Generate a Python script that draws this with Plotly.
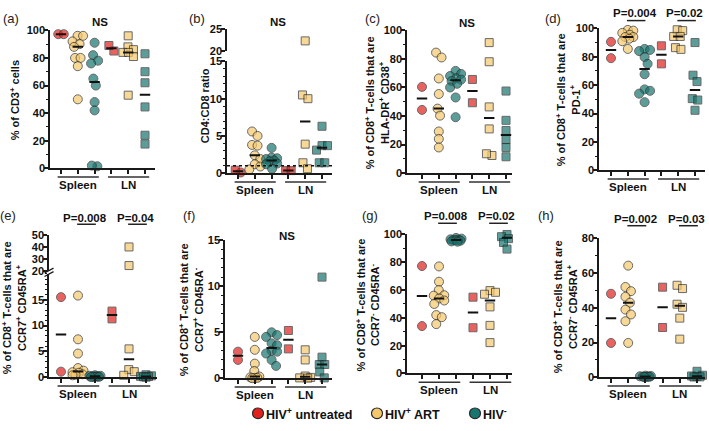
import numpy as np
import plotly.graph_objects as go

W, H = 709, 431
RED, YEL, TEAL = "#E2211C", "#F6C86B", "#17766F"
EDGE = "#2a2a2a"
AX = "#1a1a1a"
FONT = "Liberation Sans"

GROUP_NAMES = ["HIV<sup>+</sup> untreated", "HIV<sup>+</sup> ART", "HIV<sup>-</sup>"]
TISSUES = ["Spleen", "LN"]

# (a) % of CD3+ cells
cd3_spleen_untreated = [97.2, 97.2]
cd3_spleen_art = [96, 96, 92, 90, 88, 80, 80, 74, 50]
cd3_spleen_neg = [91, 82, 78, 76, 65, 60, 48, 42, 1.5, 2]
cd3_ln_untreated = [85, 89]
cd3_ln_art = [96, 88, 86, 84, 84, 81, 53]
cd3_ln_neg = [83, 70, 62, 44.5, 24, 17.6]

# (b) CD4:CD8 ratio
ratio_spleen_untreated = [0.1, 0.4]
ratio_spleen_art = [5.6, 5.0, 3.8, 3.7, 2.4, 1.9, 1.2, 0.9, 0.5]
ratio_spleen_neg = [3.4, 2.1, 2.0, 1.9, 1.7, 1.6, 1.3, 1.2, 0.6]
ratio_ln_untreated = [0.35, 0.35]
ratio_ln_art = [22.3, 10.5, 10.0, 3.9, 1.4, 0.6]
ratio_ln_neg = [6.3, 3.7, 3.7, 3.1, 1.4, 1.4]
ratio_reference = 1.0

# (c) HLA-DR+ CD38+
hla_spleen_untreated = [60.4, 44.3]
hla_spleen_art = [84.4, 81, 66.3, 55.4, 45.2, 40.3, 29.2, 24, 18]
hla_spleen_neg = [71.6, 69.5, 68, 66.5, 65.5, 64.5, 62.6, 60, 53, 39.2]
hla_ln_untreated = [65.6, 49.3]
hla_ln_art = [91.4, 78, 46.4, 31, 12.4, 13.6]
hla_ln_neg = [57.5, 37, 29.9, 23.5, 18, 11.5]

# (d) PD-1+
pd1_spleen_untreated = [90.5, 79]
pd1_spleen_art = [98.9, 98.4, 96.8, 95.5, 93.9, 93.9, 92.7, 90.9, 85.5]
pd1_spleen_neg = [85.5, 84.8, 84, 79.8, 75, 67.7, 57, 56, 54, 48]
pd1_ln_untreated = [87.7, 75]
pd1_ln_art = [99, 98.4, 94.3, 94.3, 86.4, 85.2]
pd1_ln_neg = [90, 67, 62.5, 50.5, 49.5, 42.3]

# (e) CCR7+ CD45RA+
naive_spleen_untreated = [15.5, 1.1]
naive_spleen_art = [15.8, 7.35, 4.6, 1.8, 1.3, 1.0, 0.9, 0.6, 0.5, 0.4]
naive_spleen_neg = [0.4, 0.3, 0.3, 0.2, 0.2, 0.15, 0.1, 0.1, 0.05]
naive_ln_untreated = [11.3, 12.8]
naive_ln_art = [40.1, 24.5, 5.5, 1.5, 1.1, 0.4]
naive_ln_neg = [0.5, 0.3, 0.2, 0.15, 0.1, 0.05]

# (f) CCR7+ CD45RA-
cm_spleen_untreated = [2.0, 2.9]
cm_spleen_art = [4.5, 3.1, 1.6, 0.8, 0.2, 0.1, 0.05, 0.05, 0.02]
cm_spleen_neg = [5.0, 4.7, 4.5, 3.8, 3.6, 3.0, 2.9, 2.7, 2.0, 1.35]
cm_ln_untreated = [5.2, 3.2]
cm_ln_art = [3.1, 2.0, 0.25, 0.1, 0.05, 0.02]
cm_ln_neg = [11.0, 2.3, 1.5, 1.5, 0.7, 0.05]

# (g) CCR7- CD45RA-
em_spleen_untreated = [77.3, 34.1]
em_spleen_art = [77, 66, 60, 56.3, 56, 54, 52.5, 50, 42, 40.5, 35.5]
em_spleen_neg = [97.5, 97, 96.5, 96.2, 96, 95.8, 95.5, 95, 94.8]
em_ln_untreated = [54.9, 32.9]
em_ln_art = [59.6, 58.4, 57, 47.9, 34.6, 22.2]
em_ln_neg = [100, 98.8, 98.4, 97, 94.2, 89.5]

# (h) CCR7- CD45RA+
emra_spleen_untreated = [48.1, 19.8]
emra_spleen_art = [64.3, 52, 49.6, 46.4, 43, 39, 36.2, 32.3, 19.8]
emra_spleen_neg = [1.0, 0.8, 0.6, 0.5, 0.4, 0.3, 0.3, 0.2]
emra_ln_untreated = [51.9, 28.7]
emra_ln_art = [53, 51.1, 42.1, 40.3, 34.1, 22]
emra_ln_neg = [3.5, 1.2, 0.8, 0.5, 0.3, 0.2]

GROUP_COLORS = [RED, YEL, TEAL, RED, YEL, TEAL]
GROUP_SYMBOLS = ["circle"] * 3 + ["square"] * 3

T1 = "% of CD8<sup>+</sup> T-cells that are<br>"

panels = [
    dict(letter="(a)", lxy=(11, 13),
         data=[cd3_spleen_untreated, cd3_spleen_art, cd3_spleen_neg, cd3_ln_untreated, cd3_ln_art, cd3_ln_neg],
         xl=50, p1=61, p6=145, xr=155,
         segs=[dict(rng=[0, 100], px=[167, 25], tv=[0, 20, 40, 60, 80, 100], minor=10)],
         title="% of CD3<sup>+</sup> cells", txy=(15, 97),
         sig=[dict(text="NS", x=100, y=16)]),
    dict(letter="(b)", lxy=(197, 13),
         data=[ratio_spleen_untreated, ratio_spleen_art, ratio_spleen_neg, ratio_ln_untreated, ratio_ln_art, ratio_ln_neg],
         xl=227, p1=238, p6=322, xr=332,
         segs=[dict(rng=[0, 15], px=[172, 57], tv=[0, 5, 10, 15], minor=1),
               dict(rng=[20, 25], px=[46, 24], tv=[20, 25], minor=None)],
         title="CD4:CD8 ratio", txy=(205, 103),
         symbols={0: ["circle", "square"]},
         refline=ratio_reference,
         sig=[dict(text="NS", x=278, y=16)]),
    dict(letter="(c)", lxy=(373, 13),
         data=[hla_spleen_untreated, hla_spleen_art, hla_spleen_neg, hla_ln_untreated, hla_ln_art, hla_ln_neg],
         xl=407, p1=422, p6=506, xr=512,
         segs=[dict(rng=[0, 100], px=[172, 25], tv=[0, 20, 40, 60, 80, 100], minor=10)],
         title=T1 + "HLA-DR<sup>+</sup> CD38<sup>+</sup>", txy=(377, 99),
         sig=[dict(text="NS", x=467, y=17)]),
    dict(letter="(d)", lxy=(553, 13),
         data=[pd1_spleen_untreated, pd1_spleen_art, pd1_spleen_neg, pd1_ln_untreated, pd1_ln_art, pd1_ln_neg],
         xl=599, p1=611, p6=695, xr=705,
         segs=[dict(rng=[0, 100], px=[169, 23], tv=[0, 20, 40, 60, 80, 100], minor=10)],
         title=T1 + "PD-1<sup>+</sup>", txy=(568, 97),
         sig=[dict(text="P=0.004", g=(2, 3), ty=7, ly=15), dict(text="P=0.02", g=(5, 6), ty=7, ly=15)]),
    dict(letter="(e)", lxy=(8, 215),
         data=[naive_spleen_untreated, naive_spleen_art, naive_spleen_neg, naive_ln_untreated, naive_ln_art, naive_ln_neg],
         xl=49, p1=61, p6=146, xr=157,
         segs=[dict(rng=[0, 20], px=[382, 275.5], tv=[0, 5, 10, 15], minor=1),
               dict(rng=[20, 50], px=[272.5, 235.7], tv=[20, 30, 40, 50], minor=None)],
         breakmark=(49, 274),
         title=T1 + "CCR7<sup>+</sup> CD45RA<sup>+</sup>", txy=(14, 311),
         sig=[dict(text="P=0.008", g=(2, 3), ty=218, ly=224.5), dict(text="P=0.04", g=(5, 6), ty=218, ly=224.5)]),
    dict(letter="(f)", lxy=(189, 216),
         data=[cm_spleen_untreated, cm_spleen_art, cm_spleen_neg, cm_ln_untreated, cm_ln_art, cm_ln_neg],
         xl=225, p1=238, p6=322, xr=332,
         segs=[dict(rng=[0, 15], px=[383, 241], tv=[0, 5, 10, 15], minor=1)],
         title=T1 + "CCR7<sup>+</sup> CD45RA<sup>-</sup>", txy=(191, 313),
         sig=[dict(text="NS", x=287, y=237)]),
    dict(letter="(g)", lxy=(370, 216),
         data=[em_spleen_untreated, em_spleen_art, em_spleen_neg, em_ln_untreated, em_ln_art, em_ln_neg],
         xl=407, p1=422, p6=507, xr=512,
         segs=[dict(rng=[0, 100], px=[378, 235], tv=[0, 20, 40, 60, 80, 100], minor=10)],
         title=T1 + "CCR7<sup>-</sup> CD45RA<sup>-</sup>", txy=(368, 308),
         sig=[dict(text="P=0.008", g=(2, 3), ty=216, ly=223.5), dict(text="P=0.02", g=(5, 6), ty=216, ly=223.5)]),
    dict(letter="(h)", lxy=(546, 216),
         data=[emra_spleen_untreated, emra_spleen_art, emra_spleen_neg, emra_ln_untreated, emra_ln_art, emra_ln_neg],
         xl=599, p1=611, p6=697, xr=705,
         segs=[dict(rng=[0, 80], px=[382, 239], tv=[0, 20, 40, 60, 80], minor=10)],
         title=T1 + "CCR7<sup>-</sup> CD45RA<sup>+</sup>", txy=(565, 310),
         sig=[dict(text="P=0.002", g=(2, 3), ty=219, ly=226), dict(text="P=0.03", g=(5, 6), ty=219, ly=226)]),
]


def fx(px):
    return px / W


def fy(py):
    return 1 - py / H


def seg_index(segs, v):
    for i, s in enumerate(segs):
        if s["rng"][0] <= v <= s["rng"][1]:
            return i
    return min(range(len(segs)),
               key=lambda i: min(abs(v - segs[i]["rng"][0]), abs(v - segs[i]["rng"][1])))


def v2px(segs, v):
    s = segs[seg_index(segs, v)]
    (a, b), (pa, pb) = s["rng"], s["px"]
    return pa + (v - a) / (b - a) * (pb - pa)


def swarm(pys, d=7.5, maxw=5.5):
    n = len(pys)
    order = sorted(range(n), key=lambda i: pys[i])
    cands = sorted(np.arange(-maxw, maxw + 0.01, 0.5), key=lambda c: (abs(c), -c))
    xs = [0.0] * n
    placed = []
    for i in order:
        y = pys[i]
        best, bestd = None, -1.0
        for c in cands:
            md = min([np.hypot(c - qx, y - qy) for qx, qy in placed], default=1e9)
            if md >= d:
                best = c
                break
            if md > bestd + 1e-9:
                bestd, best = md, c
        xs[i] = float(best)
        placed.append((best, y))
    clusters, cur = [], [order[0]]
    for a, b in zip(order, order[1:]):
        if abs(pys[b] - pys[a]) < d:
            cur.append(b)
        else:
            clusters.append(cur)
            cur = [b]
    clusters.append(cur)
    for cl in clusters:
        if len(cl) > 1:
            m = (max(xs[i] for i in cl) + min(xs[i] for i in cl)) / 2
            for i in cl:
                xs[i] -= m
    return xs


fig = go.Figure()
layout = dict(width=W, height=H, margin=dict(l=0, r=0, t=0, b=0), autosize=False,
              paper_bgcolor="white", plot_bgcolor="white", showlegend=False,
              font=dict(family=FONT, color="#111"))
shapes, annots = [], []
tickfont = dict(family=FONT, size=11, color="#111", weight="bold")

ycount = 0
for pi, P in enumerate(panels):
    xn = pi + 1
    xname = "x" if xn == 1 else f"x{xn}"
    sp = (P["p6"] - P["p1"]) / 5
    lo = 1 - (P["p1"] - P["xl"]) / sp
    hi = 6 + (P["xr"] - P["p6"]) / sp
    yids = []
    for s in P["segs"]:
        ycount += 1
        yids.append(ycount)
    ynames = ["y" if k == 1 else f"y{k}" for k in yids]

    layout["xaxis" if xn == 1 else f"xaxis{xn}"] = dict(
        domain=[fx(P["xl"]), fx(P["xr"])], range=[lo, hi], anchor=ynames[0],
        showline=True, linecolor=AX, linewidth=1.5, ticks="outside", ticklen=4, tickwidth=1.5,
        tickcolor=AX, tickvals=[1, 2, 3, 4, 5, 6], showticklabels=False, showgrid=False,
        zeroline=False, fixedrange=True)
    for s, yid in zip(P["segs"], yids):
        ax = dict(domain=[fy(s["px"][0]), fy(s["px"][1])], range=s["rng"], anchor=xname,
                  showline=True, linecolor=AX, linewidth=1.5, ticks="outside", ticklen=4,
                  tickwidth=1.5, tickcolor=AX, tickvals=s["tv"], tickfont=tickfont,
                  ticklabelstandoff=-3,
                  showgrid=False, zeroline=False, fixedrange=True)
        if s["minor"]:
            ax["minor"] = dict(dtick=s["minor"], tick0=0, ticks="outside", ticklen=2.5,
                               tickwidth=1.2, tickcolor=AX, showgrid=False)
        layout["yaxis" if yid == 1 else f"yaxis{yid}"] = ax

    for g, vals in enumerate(P["data"]):
        pys = [v2px(P["segs"], v) for v in vals]
        offs = swarm(pys)
        syms = P.get("symbols", {}).get(g, [GROUP_SYMBOLS[g]] * len(vals))
        for si in range(len(P["segs"])):
            idx = [i for i, v in enumerate(vals) if seg_index(P["segs"], v) == si]
            if not idx:
                continue
            fig.add_trace(go.Scatter(
                x=[g + 1 + offs[i] / sp for i in idx], y=[vals[i] for i in idx],
                xaxis=xname, yaxis=ynames[si], mode="markers", cliponaxis=False,
                marker=dict(symbol=[syms[i] for i in idx],
                            size=[9 if syms[i] == "circle" else 8 for i in idx],
                            color=GROUP_COLORS[g], line=dict(color=EDGE, width=1)),
                hoverinfo="y"))
    for g, vals in enumerate(P["data"]):
        m = float(np.median(vals))
        si = seg_index(P["segs"], m)
        half = 5.2 / sp
        fig.add_trace(go.Scatter(x=[g + 1 - half, g + 1 + half], y=[m, m], xaxis=xname,
                                 yaxis=ynames[si], mode="lines", cliponaxis=False,
                                 line=dict(color="#111", width=2), hoverinfo="skip"))

    if "refline" in P:
        shapes.append(dict(type="line", xref=xname, yref=ynames[0], x0=lo, x1=hi,
                           y0=P["refline"], y1=P["refline"],
                           line=dict(color="#111", width=1.3, dash="dot")))
    if "breakmark" in P:
        bx, by = P["breakmark"]
        shapes.append(dict(type="rect", xref="paper", yref="paper", x0=fx(bx - 2), x1=fx(bx + 2),
                           y0=fy(by + 1.5), y1=fy(by - 1.5), fillcolor="white", line=dict(width=0)))
        for dy in (-1.8, 1.8):
            shapes.append(dict(type="line", xref="paper", yref="paper",
                               x0=fx(bx - 4.5), y0=fy(by + dy + 2.5), x1=fx(bx + 4.5), y1=fy(by + dy - 2.5),
                               line=dict(color=AX, width=1.3)))

    base = P["segs"][0]["px"][0]
    for k, (g0, g1) in enumerate([(1, 3), (4, 6)]):
        shapes.append(dict(type="line", xref=xname, yref="paper", x0=g0 - 0.2, x1=g1 + 0.25,
                           y0=fy(base + 9), y1=fy(base + 9), line=dict(color="#333", width=1.5)))
        annots.append(dict(text=TISSUES[k], xref=xname, yref="paper", x=(g0 + g1) / 2,
                           y=fy(base + 17.5), showarrow=False, xanchor="center", yanchor="middle",
                           font=dict(family=FONT, size=11.5, color="#111", weight="bold")))

    annots.append(dict(text=P["title"], xref="paper", yref="paper", x=fx(P["txy"][0]),
                       y=fy(P["txy"][1]), textangle=-90, showarrow=False, xanchor="center",
                       yanchor="middle", align="center",
                       font=dict(family=FONT, size=11, color="#111", weight="bold")))
    annots.append(dict(text=P["letter"], xref="paper", yref="paper", x=fx(P["lxy"][0]),
                       y=fy(P["lxy"][1]), showarrow=False, xanchor="center", yanchor="middle",
                       font=dict(family=FONT, size=13, color="#222")))
    for s in P["sig"]:
        sf = dict(family=FONT, size=11.5, color="#111", weight="bold")
        if "g" in s:
            g0, g1 = s["g"]
            shapes.append(dict(type="line", xref=xname, yref="paper", x0=g0 - 0.05, x1=g1 + 0.05,
                               y0=fy(s["ly"]), y1=fy(s["ly"]), line=dict(color="#222", width=1.5)))
            annots.append(dict(text=s["text"], xref=xname, yref="paper", x=(g0 + g1) / 2 - 0.1,
                               y=fy(s["ty"]), showarrow=False, xanchor="center", yanchor="middle",
                               font=sf))
        else:
            annots.append(dict(text=s["text"], xref="paper", yref="paper", x=fx(s["x"]),
                               y=fy(s["y"]), showarrow=False, xanchor="center", yanchor="middle",
                               font=sf))

legend_items = [(258, 264, RED), (377, 383, YEL), (475, 481, TEAL)]
for (cx, tx, col), name in zip(legend_items, GROUP_NAMES):
    r = 5.5
    shapes.append(dict(type="circle", xref="paper", yref="paper", x0=fx(cx - r), x1=fx(cx + r),
                       y0=fy(419 + r), y1=fy(419 - r), fillcolor=col, line=dict(color=EDGE, width=1.2)))
    annots.append(dict(text=name, xref="paper", yref="paper", x=fx(tx), y=fy(419.5),
                       showarrow=False, xanchor="left", yanchor="middle",
                       font=dict(family=FONT, size=12.5, color="#111", weight="bold")))

layout["shapes"] = shapes
layout["annotations"] = annots
fig.update_layout(**layout)
fig.write_html("out.html", config={"displayModeBar": False},
               post_script="document.body.style.margin='0';document.body.style.overflow='hidden';")
